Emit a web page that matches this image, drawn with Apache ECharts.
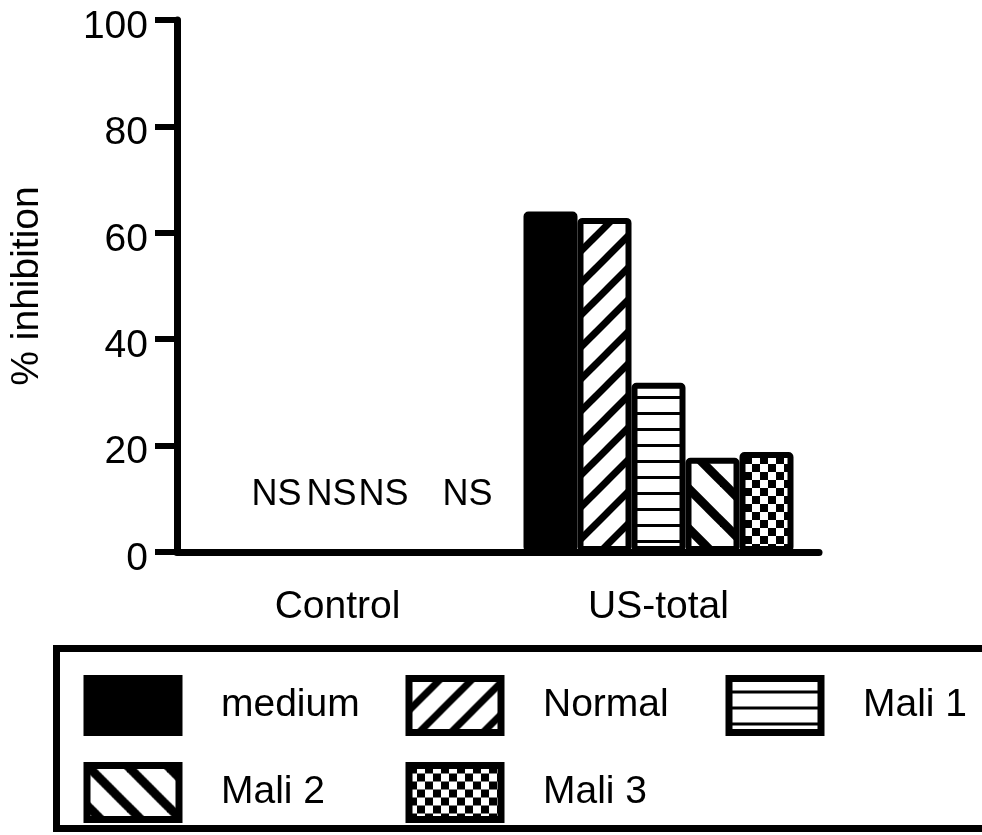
<!DOCTYPE html>
<html>
<head>
<meta charset="utf-8">
<script src="https://cdn.jsdelivr.net/npm/echarts@6/dist/echarts.min.js"></script>
<style>
html,body{margin:0;padding:0;background:#fff;}
#chart{width:982px;height:835px;}
</style>
</head>
<body>
<div id="chart"></div>
<script>
// ---- data ----
const categories = ['Control', 'US-total'];
const seriesNames = ['medium', 'Normal', 'Mali 1', 'Mali 2', 'Mali 3'];
const controlValues = [0, 0, 0, 0, 0];
const usTotalValues = [64, 62.8, 31.8, 17.7, 18.8];
const controlLabels = ['', 'NS', 'NS', 'NS', 'NS'];
const yMin = 0, yMax = 100, yInterval = 20;

// ---- styles ----
const FONT = 'Liberation Sans';
function makePattern(kind) {
  const c = document.createElement('canvas');
  const g = c.getContext('2d');
  if (kind === 'slash') {
    const s = 32; c.width = s; c.height = s;
    g.fillStyle = '#fff'; g.fillRect(0, 0, s, s);
    g.strokeStyle = '#000'; g.lineWidth = 7;
    for (const o of [-s, 0, s]) { g.beginPath(); g.moveTo(o - 6, s + 6); g.lineTo(o + s + 6, -6); g.stroke(); }
  } else if (kind === 'backslash') {
    const s = 40; c.width = s; c.height = s;
    g.fillStyle = '#fff'; g.fillRect(0, 0, s, s);
    g.strokeStyle = '#000'; g.lineWidth = 9;
    for (const o of [-s, 0, s]) { g.beginPath(); g.moveTo(o - 6, -6); g.lineTo(o + s + 6, s + 6); g.stroke(); }
  } else if (kind === 'hline') {
    c.width = 16; c.height = 16;
    g.fillStyle = '#fff'; g.fillRect(0, 0, 16, 16);
    g.fillStyle = '#000'; g.fillRect(0, 12, 16, 3);
  } else if (kind === 'checker') {
    c.width = 16; c.height = 16;
    g.fillStyle = '#fff'; g.fillRect(0, 0, 16, 16);
    g.fillStyle = '#000'; g.fillRect(0, 0, 8, 8); g.fillRect(8, 8, 8, 8);
  }
  return { image: c, repeat: 'repeat' };
}
const fills = ['#000', makePattern('slash'), makePattern('hline'), makePattern('backslash'), makePattern('checker')];
const labelShift = [0, -7, -6, -8, 22];

const series = seriesNames.map((name, i) => ({
  name: name,
  type: 'bar',
  barWidth: 54,
  barGap: '0%',
  itemStyle: { color: fills[i], borderColor: '#000', borderWidth: 6, borderRadius: 2 },
  emphasis: { disabled: true },
  data: [
    controlLabels[i] ? {
      value: controlValues[i],
      label: {
        show: true, position: 'top', distance: 36, formatter: controlLabels[i],
        offset: [labelShift[i], 0],
        color: '#000', fontSize: 36, fontFamily: FONT
      }
    } : controlValues[i],
    usTotalValues[i]
  ]
}));

const legendPos = [
  { left: 83.5, top: 675 },
  { left: 405.5, top: 675 },
  { left: 725.5, top: 675 },
  { left: 83.5, top: 762 },
  { left: 405.5, top: 762 }
];
const legends = seriesNames.map((name, i) => ({
  data: [name],
  left: legendPos[i].left,
  top: legendPos[i].top,
  padding: 0,
  icon: 'rect',
  itemWidth: 92,
  itemHeight: 54,
  selectedMode: false,
  itemStyle: { borderColor: '#000', borderWidth: 7 },
  textStyle: { color: '#000', fontSize: 39, fontFamily: FONT, padding: [0, 0, 0, 37] }
}));

const chart = echarts.init(document.getElementById('chart'), null, { renderer: 'canvas' });
chart.setOption({
  animation: false,
  backgroundColor: '#fff',
  grid: { left: 172, right: 163, top: 20, bottom: 283 },
  legend: legends,
  graphic: [{
    type: 'rect',
    shape: { x: 56.5, y: 648.5, width: 940, height: 180 },
    style: { fill: 'none', stroke: '#000', lineWidth: 7 },
    silent: true
  }],
  xAxis: {
    type: 'category',
    data: categories,
    axisLine: { lineStyle: { color: '#000', width: 7 } },
    axisTick: { show: false },
    axisLabel: { color: '#000', fontSize: 39, fontFamily: FONT, margin: 36 }
  },
  yAxis: {
    type: 'value',
    min: yMin, max: yMax, interval: yInterval,
    name: '% inhibition',
    nameLocation: 'middle',
    nameRotate: 90,
    nameGap: 130,
    nameTextStyle: { color: '#000', fontSize: 39, fontFamily: FONT },
    axisLine: { show: true, lineStyle: { color: '#000', width: 7 } },
    axisTick: { show: true, length: 22, lineStyle: { color: '#000', width: 6 } },
    axisLabel: {
      color: '#000', fontSize: 39, fontFamily: FONT, margin: 29,
      formatter: '{t|{value}}',
      rich: { t: { color: '#000', fontSize: 39, fontFamily: FONT, padding: [14, 0, 0, 0] } }
    },
    splitLine: { show: false }
  },
  series: series
});
</script>
</body>
</html>
